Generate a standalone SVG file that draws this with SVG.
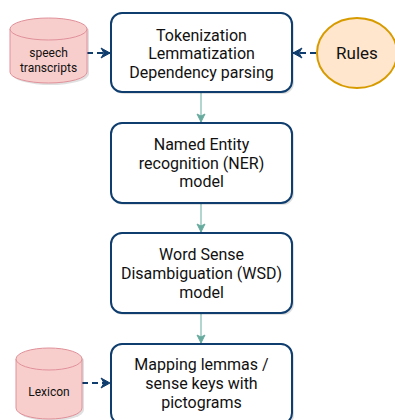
<svg xmlns="http://www.w3.org/2000/svg" width="395" height="420" viewBox="0 0 395 420">
<defs>
<style>
.box{fill:#ffffff;stroke:#0f3d6e;stroke-width:2}
.shadow{fill:#000;opacity:0.12}
.t{font-family:Roboto,"Liberation Sans",sans-serif;font-size:16px;fill:#111;text-anchor:middle}
.ts{font-family:Roboto,"Liberation Sans",sans-serif;font-size:12px;fill:#111;text-anchor:middle}
.cyl{fill:#f8cecc;stroke:#e0919a;stroke-width:1}
.flow{stroke:#67ab9f;stroke-width:1;fill:none}
.dash{stroke:#0f3d6e;stroke-width:2;fill:none;stroke-dasharray:6 4}
</style>
<marker id="teal" markerWidth="10" markerHeight="10" refX="9" refY="5" orient="auto" markerUnits="userSpaceOnUse">
<path d="M1,1 L9,5 L1,9 L3,5 Z" fill="#67ab9f" stroke="#67ab9f" stroke-width="1"/>
</marker>
<marker id="navy" markerWidth="12" markerHeight="12" refX="10" refY="6" orient="auto" markerUnits="userSpaceOnUse">
<path d="M1,1 L10,6 L1,11 L4,6 Z" fill="#0f3d6e" stroke="#0f3d6e" stroke-width="1"/>
</marker>
</defs>
<rect width="395" height="420" fill="#ffffff"/>

<g id="connectors">
<path class="flow" d="M201,92 V122" marker-end="url(#teal)"/>
<path class="flow" d="M201,203 V232" marker-end="url(#teal)"/>
<path class="flow" d="M201,313 V343" marker-end="url(#teal)"/>
<path class="dash" d="M87,53 H110" marker-end="url(#navy)"/>
<path class="dash" d="M316,53 H293" marker-end="url(#navy)"/>
<path class="dash" d="M82,383 H110" marker-end="url(#navy)"/>
</g>

<g id="tokenization">
<rect class="shadow" x="113" y="15" width="181" height="79" rx="11"/>
<rect class="box" x="111" y="13" width="181" height="79" rx="11"/>
<text class="t" x="201.5" y="40.5">Tokenization</text>
<text class="t" x="201.5" y="59">Lemmatization</text>
<text class="t" x="201.5" y="77.5">Dependency parsing</text>
</g>

<g id="ner">
<rect class="shadow" x="113" y="125" width="181" height="80" rx="11"/>
<rect class="box" x="111" y="123" width="181" height="80" rx="11"/>
<text class="t" x="201.5" y="150">Named Entity</text>
<text class="t" x="201.5" y="168.5">recognition (NER)</text>
<text class="t" x="201.5" y="187">model</text>
</g>

<g id="wsd">
<rect class="shadow" x="113" y="235" width="181" height="80" rx="11"/>
<rect class="box" x="111" y="233" width="181" height="80" rx="11"/>
<text class="t" x="201.5" y="260">Word Sense</text>
<text class="t" x="201.5" y="279">Disambiguation (WSD)</text>
<text class="t" x="201.5" y="298">model</text>
</g>

<g id="mapping">
<rect class="shadow" x="113" y="346" width="181" height="80" rx="11"/>
<rect class="box" x="111" y="344" width="181" height="80" rx="11"/>
<text class="t" x="201.5" y="370">Mapping lemmas /</text>
<text class="t" x="201.5" y="389">sense keys with</text>
<text class="t" x="201.5" y="408">pictograms</text>
</g>

<g id="speech">
<path class="shadow" d="M12,31 A38.5,11 0 0 1 89,31 V74 A38.5,11 0 0 1 12,74 Z"/>
<path class="cyl" d="M10,29 A38.5,11 0 0 1 87,29 V72 A38.5,11 0 0 1 10,72 Z"/>
<path class="cyl" d="M10,29 A38.5,11 0 0 0 87,29" fill="none"/>
<text class="ts" x="48.5" y="57">speech</text>
<text class="ts" x="48.5" y="72">transcripts</text>
</g>

<g id="rules">
<ellipse cx="357" cy="53" rx="40" ry="35" fill="#ffe6cc" stroke="#d79b00" stroke-width="2"/>
<text class="t" x="357" y="59" style="font-size:17px">Rules</text>
</g>

<g id="lexicon">
<path class="shadow" d="M18,361 A33,11 0 0 1 84,361 V410 A33,11 0 0 1 18,410 Z"/>
<path class="cyl" d="M16,359 A33,11 0 0 1 82,359 V408 A33,11 0 0 1 16,408 Z"/>
<path class="cyl" d="M16,359 A33,11 0 0 0 82,359" fill="none"/>
<text class="ts" x="49" y="396">Lexicon</text>
</g>
</svg>
